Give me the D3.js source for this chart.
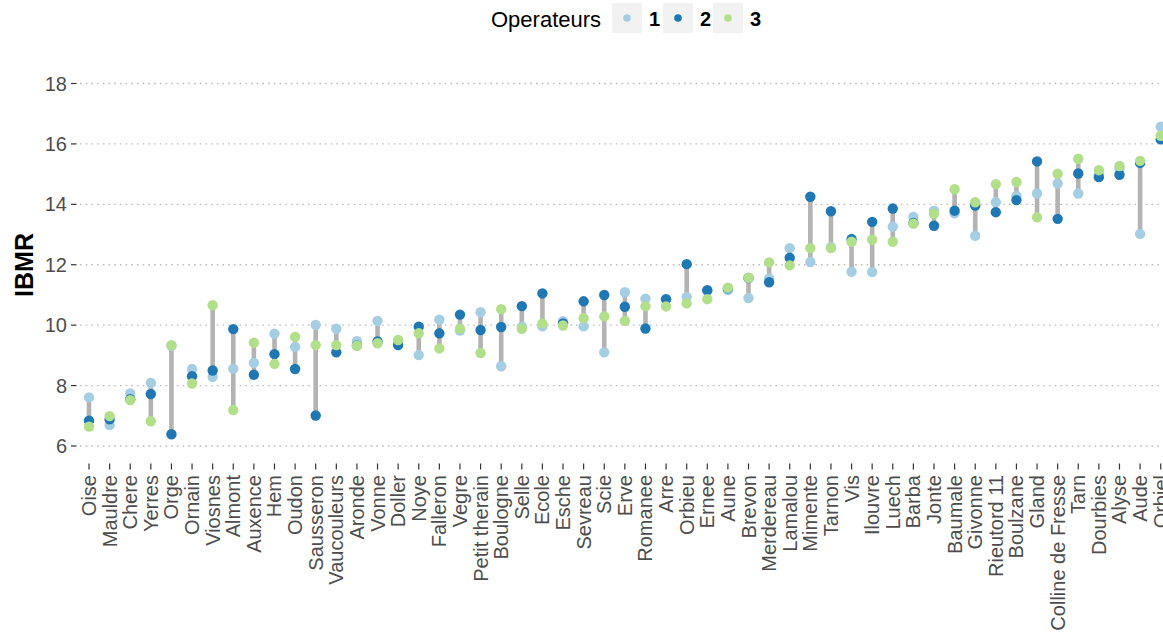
<!DOCTYPE html>
<html>
<head>
<meta charset="utf-8">
<script src="https://cdn.jsdelivr.net/npm/d3@7"></script>
<style>
  body { margin: 0; background: #fff; }
  svg { display: block; font-family: "Liberation Sans", Arial, sans-serif; }
</style>
</head>
<body>
<svg id="chart" width="1163" height="633"></svg>
<script>
// Stations, ordered by mean IBMR
const categories = ["Oise","Mauldre","Chere","Yerres","Orge","Ornain","Viosnes","Almont","Auxence","Hem",
  "Oudon","Sausseron","Vaucouleurs","Aronde","Vonne","Doller","Noye","Falleron","Vegre","Petit therain",
  "Boulogne","Selle","Ecole","Esche","Sevreau","Scie","Erve","Romanee","Arre","Orbieu",
  "Ernee","Aune","Brevon","Merdereau","Lamalou","Mimente","Tarnon","Vis","Ilouvre","Luech",
  "Barba","Jonte","Baumale","Givonne","Rieutord 11","Boulzane","Gland","Colline de Fresse","Tarn","Dourbies",
  "Alyse","Aude","Orbiel"];

// IBMR score given by each operator
const operateur1 = [7.61,6.69,7.74,8.09,9.32,8.55,8.29,8.56,8.75,9.72,
  9.28,10.01,9.88,9.47,10.14,9.45,9.01,10.18,9.82,10.43,
  8.64,9.95,9.96,10.13,9.96,9.10,11.09,10.88,10.85,10.93,
  11.14,11.16,10.90,11.55,12.55,12.09,12.58,11.77,11.76,13.26,
  13.58,13.79,13.70,12.96,14.07,14.28,14.36,14.69,14.36,15.00,
  15.19,13.02,16.57];
const operateur2 = [6.84,6.88,7.55,7.72,6.39,8.31,8.50,9.87,8.36,9.04,
  8.55,7.01,9.10,9.33,9.46,9.34,9.95,9.73,10.35,9.84,
  9.94,10.63,11.05,10.06,10.79,11.00,10.61,9.89,10.86,12.02,
  11.16,11.22,11.56,11.42,12.23,14.25,13.77,12.85,13.42,13.86,
  13.38,13.29,13.79,13.96,13.74,14.14,15.42,13.52,15.02,14.90,
  14.98,15.37,16.15];
const operateur3 = [6.64,6.99,7.52,6.82,9.34,8.07,10.66,7.19,9.42,8.72,
  9.61,9.34,9.34,9.32,9.40,9.51,9.73,9.23,9.88,9.08,
  10.53,9.88,10.06,9.99,10.23,10.29,10.14,10.63,10.62,10.72,
  10.86,11.24,11.57,12.08,11.98,12.55,12.55,12.76,12.83,12.76,
  13.36,13.69,14.50,14.07,14.67,14.74,13.57,15.01,15.51,15.13,
  15.27,15.44,16.27];

const operateurs = ["1","2","3"];
const yTicks = [6, 8, 10, 12, 14, 16, 18];

const series = [operateur1, operateur2, operateur3];
const colors = ["#a6cee3", "#1f78b4", "#b2df8a"];

const svg = d3.select("#chart");

const x = d3.scalePoint().domain(categories).range([89, 1160.7]);
const y = d3.scaleLinear().domain([6, 18]).range([446, 83.5]);

// Horizontal dotted grid
svg.append("g").selectAll("line").data(yTicks).join("line")
  .attr("x1", 80).attr("x2", 1163)
  .attr("y1", d => y(d)).attr("y2", d => y(d))
  .attr("stroke", "#bdbdbd").attr("stroke-width", 1.3)
  .attr("stroke-dasharray", "1.6,4.1");

// Y axis ticks and labels
const yAxis = svg.append("g");
yAxis.selectAll("line").data(yTicks).join("line")
  .attr("x1", 71).attr("x2", 76.5)
  .attr("y1", d => y(d)).attr("y2", d => y(d))
  .attr("stroke", "#333").attr("stroke-width", 1.2);
yAxis.selectAll("text").data(yTicks).join("text")
  .attr("x", 67).attr("y", d => y(d))
  .attr("text-anchor", "end").attr("dominant-baseline", "central")
  .attr("font-size", 20).attr("fill", "#4d4d4d")
  .text(d => d);

// X axis ticks and rotated labels
const xAxis = svg.append("g");
xAxis.selectAll("line").data(categories).join("line")
  .attr("x1", d => x(d)).attr("x2", d => x(d))
  .attr("y1", 463.5).attr("y2", 469.5)
  .attr("stroke", "#333").attr("stroke-width", 1.2);
xAxis.selectAll("text").data(categories).join("text")
  .attr("transform", d => `translate(${x(d)},475) rotate(-90)`)
  .attr("text-anchor", "end").attr("dominant-baseline", "central")
  .attr("font-size", 20).attr("fill", "#4d4d4d")
  .text(d => d);

// Y axis title
svg.append("text")
  .attr("transform", "translate(24,265) rotate(-90)")
  .attr("text-anchor", "middle").attr("dominant-baseline", "central")
  .attr("font-size", 25).attr("font-weight", "bold").attr("fill", "#000")
  .text("IBMR");

// Range segment per station (min to max of the three operators)
const ranges = categories.map((c, i) => {
  const vals = series.map(s => s[i]);
  return { c, lo: d3.min(vals), hi: d3.max(vals) };
});
svg.append("g").selectAll("line").data(ranges).join("line")
  .attr("x1", d => x(d.c)).attr("x2", d => x(d.c))
  .attr("y1", d => y(d.lo)).attr("y2", d => y(d.hi))
  .attr("stroke", "#b3b3b3").attr("stroke-width", 4.6);

// Points per operator
series.forEach((s, k) => {
  svg.append("g").selectAll("circle").data(s).join("circle")
    .attr("cx", (d, i) => x(categories[i]))
    .attr("cy", d => y(d))
    .attr("r", 5.2)
    .attr("fill", colors[k]);
});

// Legend
const legend = svg.append("g");
legend.append("text")
  .attr("x", 491).attr("y", 27)
  .attr("font-size", 22).attr("fill", "#000")
  .text("Operateurs");
const keyX = [612, 663, 713];
operateurs.forEach((op, k) => {
  legend.append("rect")
    .attr("x", keyX[k]).attr("y", 3).attr("width", 30).attr("height", 30)
    .attr("fill", "#f2f2f2");
  legend.append("circle")
    .attr("cx", keyX[k] + 15).attr("cy", 18).attr("r", 3.8)
    .attr("fill", colors[k]);
  legend.append("text")
    .attr("x", keyX[k] + 37).attr("y", 26)
    .attr("font-size", 20).attr("font-weight", "bold").attr("fill", "#000")
    .text(op);
});
</script>
</body>
</html>
